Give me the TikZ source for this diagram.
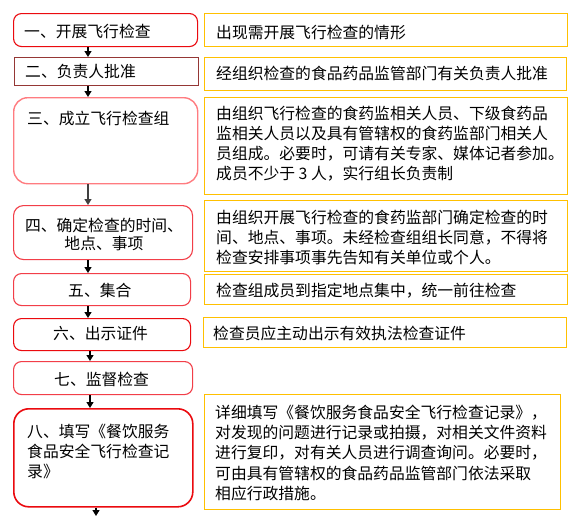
\documentclass[tikz,border=0pt]{standalone}
\usepackage{fontspec}
\newfontfamily\cjk{Noto Sans CJK SC}
\usetikzlibrary{arrows.meta}

\definecolor{deepred}{RGB}{235,10,15}
\definecolor{brownred}{RGB}{149,55,53}
\definecolor{pinkred}{RGB}{255,124,128}
\definecolor{softred}{RGB}{242,62,72}
\definecolor{noteorange}{RGB}{255,192,0}

\tikzset{
  stepbox/.style={draw=#1, rounded corners=8pt, line width=1.1pt, inner sep=0pt, anchor=north west},
  notebox/.style={draw=noteorange, line width=1.1pt, inner sep=0pt, anchor=north west},
  txt/.style={inner sep=0pt, anchor=north west, align=left, font=\fontsize{15.8}{20.3}\selectfont\cjk},
  flow/.style={-{Triangle[width=7pt,length=6pt]}, line width=1.2pt}
}

\begin{document}
\begin{tikzpicture}[x=1pt,y=-1pt]
\useasboundingbox[fill=white] (0,0) rectangle (573,515);

% steps on the left
\node[stepbox=deepred, minimum width=184pt, minimum height=33pt] (b1) at (13,13) {};
\node[stepbox=brownred, rounded corners=0pt, minimum width=184pt, minimum height=28pt] (b2) at (14,57) {};
\node[stepbox=pinkred, rounded corners=14pt, line width=1.4pt, minimum width=184pt, minimum height=86pt] (b3) at (13,97) {};
\node[stepbox=softred, rounded corners=10pt, minimum width=179pt, minimum height=54pt] (b4) at (13,205) {};
\node[stepbox=softred, minimum width=177pt, minimum height=32pt] (b5) at (13,273) {};
\node[stepbox=deepred, minimum width=177pt, minimum height=32pt] (b6) at (13,318) {};
\node[stepbox=softred, minimum width=179pt, minimum height=33pt] (b7) at (13,361) {};
\node[stepbox=deepred, rounded corners=15pt, line width=1.6pt, minimum width=179pt, minimum height=98pt] (b8) at (13,408) {};

\node[txt] (t1) at (24,23.5) {一、开展飞行检查};
\node[txt] (t2) at (25,64.5) {二、负责人批准};
\node[txt] (t3) at (27,110.5) {三、成立飞行检查组};
\node[txt, anchor=north, align=center, font=\fontsize{15.8}{18.3}\selectfont\cjk] (t4) at (104,217.5) {四、确定检查的时间、\\地点、事项};
\node[txt] (t5) at (68,282.5) {五、集合};
\node[txt] (t6) at (53,326.5) {六、出示证件};
\node[txt] (t7) at (54,371.5) {七、监督检查};
\node[txt] (t8) at (27,423.5) {八、填写《餐饮服务\\食品安全飞行检查记\\录》};

% notes on the right
\node[notebox, minimum width=363pt, minimum height=33pt] (n1) at (204,13) {};
\node[notebox, minimum width=362pt, minimum height=33pt] (n2) at (204,57) {};
\node[notebox, minimum width=363pt, minimum height=97pt] (n3) at (204,97) {};
\node[notebox, minimum width=363pt, minimum height=71pt] (n4) at (204,200) {};
\node[notebox, minimum width=363pt, minimum height=30pt] (n5) at (204,274) {};
\node[notebox, minimum width=363pt, minimum height=30pt] (n6) at (203,317) {};
\node[notebox, minimum width=356pt, minimum height=115pt] (n8) at (204,394) {};

\node[txt] (s1) at (216,24.5) {出现需开展飞行检查的情形};
\node[txt] (s2) at (216,65.5) {经组织检查的食品药品监管部门有关负责人批准};
\node[txt] (s3) at (216,105.5) {由组织飞行检查的食药监相关人员、下级食药品\\监相关人员以及具有管辖权的食药监部门相关人\\员组成。必要时，可请有关专家、媒体记者参加。\\成员不少于 3 人，实行组长负责制};
\node[txt] (s4) at (216,209.5) {由组织开展飞行检查的食药监部门确定检查的时\\间、地点、事项。未经检查组组长同意，不得将\\检查安排事项事先告知有关单位或个人。};
\node[txt] (s5) at (216,282.5) {检查组成员到指定地点集中，统一前往检查};
\node[txt] (s6) at (213,325.5) {检查员应主动出示有效执法检查证件};
\node[txt] (s8) at (215,404.5) {详细填写《餐饮服务食品安全飞行检查记录》，\\对发现的问题进行记录或拍摄，对相关文件资料\\进行复印，对有关人员进行调查询问。必要时，\\可由具有管辖权的食品药品监管部门依法采取\\相应行政措施。};

% arrows
\coordinate (ax) at (88,0);
\coordinate (bx) at (90,0);
\coordinate (cx) at (96,0);
\coordinate (tail) at (96,516);
\draw[flow] (b1.south -| ax) -- (b2.north -| ax);
\draw[flow] (b2.south -| ax) -- (b3.north -| ax);
\draw[flow, black!75] (b3.south -| ax) -- (b4.north -| ax);
\draw[flow] (b4.south -| ax) -- (b5.north -| ax);
\draw[flow] (b5.south -| ax) -- (b6.north -| ax);
\draw[flow] (b6.south -| bx) -- (b7.north -| bx);
\draw[flow] (b7.south -| bx) -- (b8.north -| bx);
\draw[flow] (b8.south -| cx) -- (tail);
\end{tikzpicture}
\end{document}
